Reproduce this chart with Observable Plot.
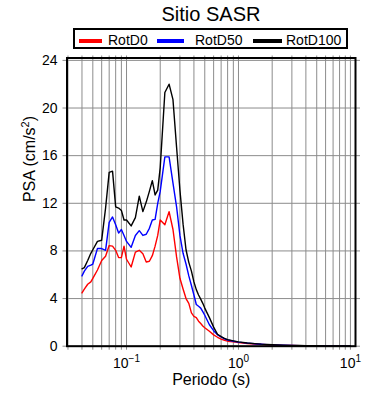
<!DOCTYPE html>
<html><head><meta charset="utf-8">
<script src="https://cdn.jsdelivr.net/npm/d3@7"></script>
<script src="https://cdn.jsdelivr.net/npm/@observablehq/plot@0.6"></script>
<style>
body{margin:0;background:#fff;font-family:"Liberation Sans",Arial,Helvetica,sans-serif;color:#000;}
#wrap{position:relative;width:390px;height:400px;overflow:hidden;}
#head{position:relative;height:52px;}
#title{position:absolute;left:111px;width:200px;top:4px;text-align:center;font-size:20px;line-height:20px;}
#legend{position:absolute;left:72.5px;top:28px;width:271px;height:17px;border:2px solid #000;}
.sw{position:absolute;height:4px;top:38.5px;}
.lt{position:absolute;top:32px;font-size:14px;line-height:16px;white-space:nowrap;}
#chart svg{display:block;}
</style></head>
<body><div id="wrap">
<div id="head">
  <div id="title">Sitio SASR</div>
  <div id="legend"></div>
</div>
<div id="chart"></div>
</div>
<script>
// ---- data ----
const periods = [0.04,0.042,0.045,0.048,0.05,0.055,0.06,0.065,0.07,0.075,0.08,0.085,0.09,0.095,0.1,0.11,0.12,0.13,0.14,0.15,0.16,0.17,0.18,0.19,0.2,0.22,0.24,0.26,0.28,0.3,0.32,0.34,0.36,0.38,0.4,0.42,0.44,0.46,0.48,0.5,0.55,0.6,0.65,0.7,0.75,0.8,0.9,1.0,1.2,1.4,1.6,1.8,2,2.5,3,3.5,4,5,6,7,8,9,10];
const rotD0 = [4.47,4.8,5.2,5.4,5.7,6.4,7.2,7.55,8.45,8.4,8.05,7.44,7.44,8.4,7.3,6.65,7.9,8.05,7.77,7.07,7.13,7.6,8.4,9.3,10.6,10.2,11.3,9.8,7.5,5.7,4.8,4.0,3.6,2.8,2.5,2.4,2.1,1.9,1.7,1.55,1.25,0.95,0.75,0.6,0.5,0.42,0.36,0.3,0.22,0.17,0.14,0.12,0.1,0.07,0.055,0.045,0.04,0.03,0.025,0.02,0.016,0.014,0.012];
const rotD50 = [5.9,6.3,6.7,6.8,6.9,8.2,8.2,8.05,10.4,10.85,10.2,9.5,9.8,9.3,8.8,8.3,9.3,9.7,9.3,9.4,9.9,10.6,10.65,12.0,13.0,15.9,15.9,13.7,11.7,9.3,7.8,6.9,5.9,5.1,4.3,3.5,3.35,3.2,2.9,2.6,1.8,1.3,0.95,0.78,0.62,0.52,0.42,0.34,0.26,0.2,0.16,0.13,0.11,0.08,0.06,0.05,0.045,0.035,0.028,0.022,0.018,0.016,0.013];
const rotD100 = [6.5,6.6,7.2,7.8,8.1,8.8,8.9,11.6,14.6,14.7,11.7,11.6,11.4,10.6,10.6,10.1,10.8,12.6,11.3,12.1,13.0,13.9,12.7,13.1,15.0,21.3,22.0,20.7,16.7,13.1,10.25,8.1,7.04,6.3,5.4,4.75,4.3,3.95,3.6,3.2,2.4,1.6,1.0,0.8,0.65,0.55,0.45,0.36,0.27,0.22,0.17,0.14,0.12,0.09,0.07,0.06,0.05,0.04,0.03,0.025,0.02,0.02,0.015];
const seriesNames = ["RotD0","RotD50","RotD100"];
const seriesColors = ["#ff0000","#0000ff","#000000"];
const yTicks = [0,4,8,12,16,20,24];
const xDecades = [0.1,1,10];
const xMinor = [0.03,0.04,0.05,0.06,0.07,0.08,0.09,0.1,0.2,0.3,0.4,0.5,0.6,0.7,0.8,0.9,1,2,3,4,5,6,7,8,9,10];

const valuesBySeries = [rotD0, rotD50, rotD100];
const data = seriesNames.flatMap((s, k) => periods.map((p, i) => ({period: p, psa: valuesBySeries[k][i], serie: s})));

// ---- legend (HTML, above svg) ----
const legend = document.getElementById("head");
const swPos = [[79,23,108],[157,27,195],[253,29,286]];
seriesNames.forEach((s, k) => {
  const sw = document.createElement("div");
  sw.className = "sw"; sw.style.left = swPos[k][0] + "px"; sw.style.width = swPos[k][1] + "px";
  sw.style.background = seriesColors[k];
  legend.appendChild(sw);
  const t = document.createElement("div");
  t.className = "lt"; t.style.left = swPos[k][2] + "px"; t.textContent = s;
  legend.appendChild(t);
});

const gridCol = "#8c8c8c";
const chart = Plot.plot({
  width: 390,
  height: 348,
  marginLeft: 66.5,
  marginRight: 35,
  marginTop: 5.5,
  marginBottom: 54.3,
  style: {fontFamily: '"Liberation Sans", Arial, sans-serif', fontSize: "14px", background: "#fff"},
  x: {type: "log", domain: [0.0294, 11.1]},
  y: {domain: [0, 24.2]},
  color: {domain: seriesNames, range: seriesColors},
  marks: [
    Plot.gridX(xMinor, {stroke: gridCol, strokeOpacity: 1, strokeWidth: 1}),
    Plot.gridY(yTicks, {stroke: gridCol, strokeOpacity: 1, strokeWidth: 1}),
    Plot.axisX({ticks: xMinor, anchor: "bottom", tickSize: 4, tickFormat: () => "", label: null, stroke: gridCol}),
    Plot.axisX({ticks: xMinor, anchor: "top", tickSize: 3, tickFormat: () => "", label: null, stroke: gridCol}),
    Plot.axisX({ticks: xDecades, anchor: "bottom", tickSize: 0, tickPadding: 12, tickFormat: d => "10^" + Math.round(Math.log10(d)), label: null}),
    Plot.axisY({ticks: yTicks, anchor: "left", tickSize: 4, tickPadding: 5.5, label: null, stroke: gridCol}),
    Plot.axisY({ticks: yTicks, anchor: "right", tickSize: 4, tickFormat: () => "", label: null, stroke: gridCol}),
    Plot.line(data, {x: "period", y: "psa", z: "serie", stroke: "serie", strokeWidth: 1.4}),
    Plot.frame({stroke: "#000", strokeWidth: 2}),
    Plot.text(["Periodo (s)"], {frameAnchor: "bottom", dy: 39, fontSize: 16}),
    Plot.text(["PSA (cm/s²)"], {frameAnchor: "left", dx: -37.5, rotate: -90, fontSize: 16})
  ]
});
document.getElementById("chart").appendChild(chart);

const NS = "http://www.w3.org/2000/svg";
// superscript exponents on decade labels
chart.querySelectorAll('g[aria-label="x-axis tick label"] text').forEach(t => {
  const s = t.textContent;
  if (s.indexOf("^") < 0) return;
  const exp = s.split("^")[1].replace("-", "\u2212");
  t.textContent = "10";
  const ts = document.createElementNS(NS, "tspan");
  ts.setAttribute("dy", "-6");
  ts.setAttribute("font-size", "10");
  ts.textContent = exp;
  t.appendChild(ts);
});
// superscript 2 in the y label
chart.querySelectorAll("text").forEach(t => {
  if (t.textContent === "PSA (cm/s²)") {
    t.textContent = "PSA (cm/s";
    const a = document.createElementNS(NS, "tspan");
    a.setAttribute("dy", "-6"); a.setAttribute("font-size", "11"); a.textContent = "2";
    const b = document.createElementNS(NS, "tspan");
    b.setAttribute("dy", "6"); b.textContent = ")";
    t.appendChild(a); t.appendChild(b);
  }
});
</script>
</body></html>
